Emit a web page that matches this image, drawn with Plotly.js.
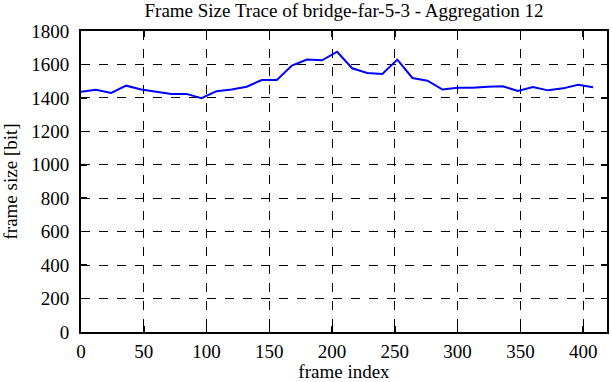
<!DOCTYPE html>
<html><head><meta charset="utf-8">
<script src="https://cdn.plot.ly/plotly-3.0.1.min.js"></script>
<style>html,body{margin:0;padding:0;background:#fff}#chart{width:612px;height:382px}</style>
</head><body><div id="chart"></div>
<script>
const frameIndex = [0,12,24,36,48,60,72,84,96,108,120,132,144,156,168,180,192,204,216,228,240,252,264,276,288,300,312,324,336,348,360,372,384,396,408];
const frameSize = [1436,1448,1430,1473,1450,1436,1424,1424,1398,1440,1450,1467,1507,1507,1593,1629,1625,1676,1577,1549,1543,1629,1519,1503,1450,1461,1461,1467,1469,1442,1465,1445,1457,1479,1463];
const xTicks = [0,50,100,150,200,250,300,350,400];
const yTicks = [0,200,400,600,800,1000,1200,1400,1600,1800];

const FAM = 'Liberation Serif, serif';
function f(size) { return {family: FAM, color: '#000', size: size}; }
function axis(extra) {
  return Object.assign({
    showline: true, linecolor: '#000', linewidth: 2, mirror: 'ticks',
    ticks: 'inside', ticklen: 6, tickwidth: 1.5, tickcolor: '#000',
    showgrid: true, gridcolor: '#000', gridwidth: 1, griddash: 'dash',
    zeroline: false, tickfont: f(19)
  }, extra);
}
Plotly.newPlot('chart', [{
  x: frameIndex, y: frameSize, type: 'scatter', mode: 'lines',
  line: {color: '#0000ff', width: 2}
}], {
  width: 612, height: 382,
  margin: {l: 81, r: 5, t: 31, b: 50},
  paper_bgcolor: '#fff', plot_bgcolor: '#fff',
  font: f(19),
  showlegend: false,
  title: {text: 'Frame Size Trace of bridge-far-5-3 - Aggregation 12', font: f(19), xref: 'paper', x: 0.5, xanchor: 'center', yref: 'container', y: 0.99, yanchor: 'top'},
  xaxis: axis({range: [0, 419], tickvals: xTicks, ticklabelstandoff: 1, title: {text: 'frame index', font: f(19), standoff: 13}}),
  yaxis: axis({range: [0, 1800], tickvals: yTicks, ticklabelstandoff: 6, title: {text: 'frame size [bit]', font: f(19), standoff: 10}})
}, {staticPlot: true});
</script></body></html>
